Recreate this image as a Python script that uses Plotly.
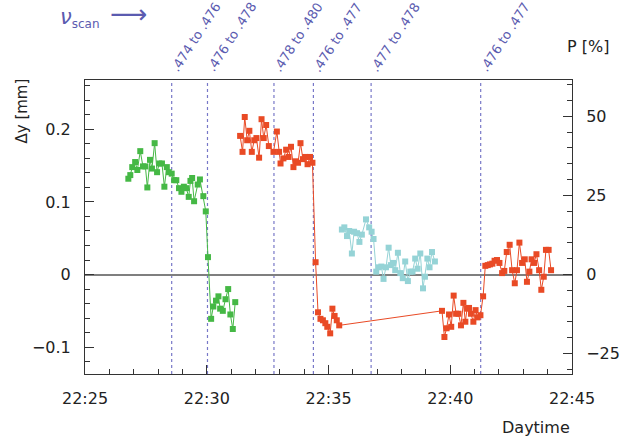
import plotly.graph_objects as go
import pandas as pd

# ---------------- data (minutes after 22:25, delta-y in mm) ----------------
green_t = [1.78, 1.86, 1.94, 2.06, 2.15, 2.27, 2.38, 2.48, 2.56, 2.67, 2.75, 2.86, 2.96, 3.05,
           3.16, 3.26, 3.36, 3.44, 3.56, 3.66, 3.75, 3.86, 3.96, 4.06, 4.16, 4.26, 4.33, 4.40,
           4.48, 4.63, 4.72, 4.86, 4.96, 5.05, 5.18, 5.27, 5.38, 5.48, 5.55, 5.66, 5.77, 5.88,
           5.97, 6.07, 6.17]
green_v = [0.132, 0.137, 0.148, 0.155, 0.144, 0.170, 0.149, 0.149, 0.120, 0.158, 0.146, 0.181,
           0.141, 0.153, 0.153, 0.121, 0.148, 0.141, 0.139, 0.130, 0.130, 0.119, 0.114, 0.121,
           0.119, 0.107, 0.129, 0.133, 0.101, 0.124, 0.131, 0.108, 0.087, 0.024, -0.061, -0.044,
           -0.036, -0.030, -0.047, -0.050, -0.034, -0.020, -0.055, -0.075, -0.038]

red_t = [6.37, 6.47, 6.56, 6.66, 6.75, 6.85, 6.95, 7.04, 7.15, 7.25, 7.34, 7.44, 7.55, 7.74,
         7.88, 7.97, 8.03, 8.15, 8.26, 8.36, 8.46, 8.56, 8.66, 8.75, 8.85, 8.95, 9.04, 9.14,
         9.24, 9.34,
         9.47, 9.57, 9.67, 9.77, 9.87, 9.95, 10.07, 10.16, 10.25, 10.34, 10.44,
         14.66, 14.76, 14.85, 14.95, 15.04, 15.14, 15.24, 15.34, 15.44, 15.54, 15.62, 15.69,
         15.77, 15.85, 15.95, 16.04, 16.12, 16.24, 16.35, 16.44, 16.54, 16.63, 16.73, 16.82,
         16.92, 17.02, 17.13, 17.22, 17.32, 17.44, 17.54, 17.65, 17.74, 17.84, 17.95, 18.06,
         18.15, 18.25, 18.34, 18.44, 18.54, 18.65, 18.74, 18.84, 18.93, 19.04, 19.14]
red_v = [0.191, 0.169, 0.217, 0.185, 0.198, 0.169, 0.185, 0.188, 0.161, 0.214, 0.188, 0.206,
         0.177, 0.169, 0.197, 0.169, 0.153, 0.160, 0.172, 0.162, 0.176, 0.148, 0.156, 0.154,
         0.181, 0.159, 0.162, 0.152, 0.162, 0.154,
         0.017, -0.052, -0.061, -0.063, -0.067, -0.072, -0.081, -0.047, -0.057, -0.063, -0.070,
         -0.050, -0.086, -0.074, -0.055, -0.072, -0.029, -0.054, -0.054, -0.070, -0.039, -0.065,
         -0.047, -0.046, -0.054, -0.065, -0.049, -0.059, -0.056, -0.030, 0.012, 0.013, 0.014,
         0.015, 0.019, 0.020, 0.016, 0.002, 0.005, 0.031, 0.041, 0.006, -0.012, 0.006, 0.044,
         0.016, 0.021, -0.010, 0.004, 0.021, 0.016, 0.028, 0.006, -0.021, -0.003, 0.034, 0.034,
         0.006]

cyan_t = [10.55, 10.65, 10.76, 10.85, 10.96, 11.05, 11.17, 11.27, 11.37, 11.54, 11.67, 11.77,
          11.85, 11.96, 12.05, 12.17, 12.26, 12.36, 12.47, 12.56, 12.65, 12.74, 12.85, 12.95,
          13.05, 13.15, 13.26, 13.36, 13.45, 13.56, 13.66, 13.77, 13.88, 13.96, 14.06, 14.15,
          14.25, 14.37]
cyan_v = [0.062, 0.065, 0.053, 0.060, 0.029, 0.059, 0.057, 0.045, 0.055, 0.076, 0.065, 0.059,
          0.049, 0.004, 0.010, 0.011, -0.006, 0.010, 0.037, 0.013, 0.016, 0.006, 0.030, 0.002,
          -0.005, 0.018, -0.009, 0.004, 0.004, 0.022, 0.008, 0.029, -0.019, -0.003, 0.022, 0.010,
          0.031, 0.018]

scan_t = [3.56, 5.03, 7.76, 9.38, 11.75, 16.25]
scan_labels = [".474 to .476", ".476 to .478", ".478 to .480", ".476 to .477",
               ".477 to .478", ".476 to .477"]

x_ticks = ["22:25", "22:30", "22:35", "22:40", "22:45"]
y_ticks = ["−0.1", "0", "0.1", "0.2"]
p_ticks = ["−25", "0", "25", "50"]

BASE = pd.Timestamp("2000-01-01 22:25:00")


def to_time(mins):
    return [BASE + pd.Timedelta(minutes=m) for m in mins]


FONT = "DejaVu Sans"
AXC = "#333333"
TXT = "#222222"
SCAN_C = "#5b5bb0"

W, H = 623, 440
L, R, T, B = 85, 51, 80, 66
pw, ph = W - L - R, H - T - B


def px(x):
    return (x - L) / pw


def py(y):
    return (H - B - y) / ph


fig = go.Figure()

for t, v, c in [(green_t, green_v, "#45b845"), (red_t, red_v, "#e94a25"),
                (cyan_t, cyan_v, "#95d3d6")]:
    fig.add_trace(go.Scatter(
        x=to_time(t), y=v, mode="lines+markers",
        line=dict(color=c, width=1),
        marker=dict(symbol="square", size=6, color=c),
        showlegend=False, hoverinfo="skip"))

# dummy trace so the right axis is drawn
fig.add_trace(go.Scatter(x=[None], y=[None], yaxis="y2", showlegend=False, hoverinfo="skip"))

for t, lab in zip(scan_t, scan_labels):
    tt = to_time([t])[0]
    fig.add_shape(type="line", xref="x", yref="paper", x0=tt, x1=tt, y0=0, y1=1,
                  line=dict(color="#7878c8", width=1.2, dash="dot"), layer="below")
    fig.add_annotation(x=tt, xref="x", y=1.0, yref="paper", text=lab, showarrow=False,
                       textangle=-57, xanchor="left", yanchor="bottom", yshift=3, xshift=-7,
                       font=dict(family=FONT, size=13, color=SCAN_C))

# nu_scan label with arrow
fig.add_annotation(x=px(58), y=py(18), xref="paper", yref="paper",
                   text="<i>ν</i><sub><span style='font-size:12px'>scan</span></sub>",
                   showarrow=False, xanchor="left", yanchor="middle",
                   font=dict(family=FONT, size=21, color=SCAN_C))
fig.add_annotation(x=px(108), y=py(14), xref="paper", yref="paper",
                   text="⟶", showarrow=False, xanchor="left", yanchor="middle",
                   font=dict(family=FONT, size=26, color=SCAN_C))

fig.add_annotation(x=px(21), y=py(77), xref="paper", yref="paper", text="Δy [mm]",
                   showarrow=False, textangle=-90, xanchor="center", yanchor="top",
                   font=dict(family=FONT, size=15, color=TXT))
fig.add_annotation(x=px(588), y=py(47), xref="paper", yref="paper", text="P [%]",
                   showarrow=False, xanchor="center", yanchor="middle",
                   font=dict(family=FONT, size=16, color=TXT))
fig.add_annotation(x=1.0, y=py(427), xref="paper", yref="paper", text="Daytime",
                   showarrow=False, xanchor="right", yanchor="middle",
                   font=dict(family=FONT, size=16, color=TXT))

tickvals = to_time([0, 5, 10, 15, 20])

fig.update_layout(
    width=W, height=H,
    margin=dict(l=L, r=R, t=T, b=B, autoexpand=False),
    plot_bgcolor="white", paper_bgcolor="white",
    font=dict(family=FONT, size=16, color=TXT),
    xaxis=dict(
        range=[to_time([0])[0], to_time([20])[0]],
        tickvals=tickvals, ticktext=x_ticks, automargin=False,
        ticks="inside", ticklen=9, tickcolor=AXC, tickwidth=1,
        showline=True, linecolor=AXC, linewidth=1, mirror=True,
        showgrid=False, zeroline=False, ticklabelstandoff=10,
        minor=dict(dtick=60000, tick0=to_time([0])[0], ticks="inside", ticklen=5,
                   tickcolor=AXC, showgrid=False),
    ),
    yaxis=dict(
        range=[-0.137, 0.268], automargin=False,
        tickvals=[-0.1, 0, 0.1, 0.2], ticktext=y_ticks,
        ticks="inside", ticklen=9, tickcolor=AXC,
        showline=True, linecolor=AXC, linewidth=1,
        showgrid=False, zeroline=True, zerolinecolor="#7f7f7f", zerolinewidth=2,
        ticklabelstandoff=10,
        minor=dict(dtick=0.02, tick0=0, ticks="inside", ticklen=5, tickcolor=AXC, showgrid=False),
    ),
    yaxis2=dict(
        overlaying="y", side="right", automargin=False,
        range=[-31.5, 61.5],
        tickvals=[-25, 0, 25, 50], ticktext=p_ticks,
        ticks="inside", ticklen=9, tickcolor=AXC,
        showline=True, linecolor=AXC, linewidth=1,
        showgrid=False, zeroline=False, ticklabelstandoff=10,
        minor=dict(dtick=5, tick0=0, ticks="inside", ticklen=5, tickcolor=AXC, showgrid=False),
    ),
)

fig.write_html(
    "out.html",
    config={"displayModeBar": False, "staticPlot": True},
    post_script="document.body.style.margin='0';document.body.style.padding='0';"
                "document.body.style.overflow='hidden';",
)
